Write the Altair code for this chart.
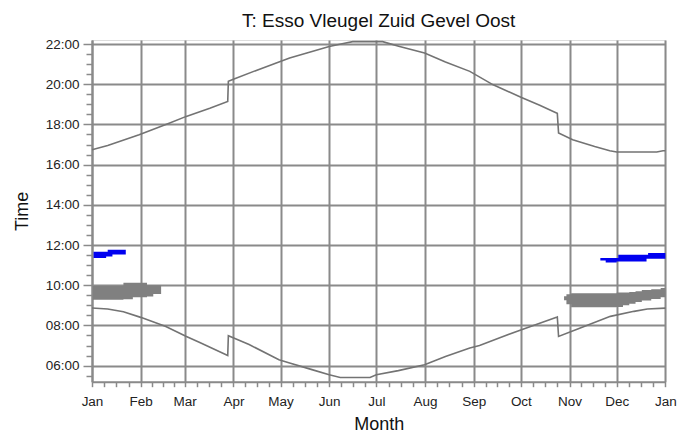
import altair as alt
import pandas as pd

# ---- data (day of year, hours) ----
sunset_day = [0, 10, 30, 49.5, 60, 75, 86.4, 86.8, 90, 105, 119, 125.8, 151, 160, 166, 185,
              195.8, 211.7, 225, 240.5, 255.4, 273.4, 285, 295.7, 296.2, 297, 306, 320,
              329.6, 334, 359.5, 363.5, 365]
sunset_time = [16.74, 16.95, 17.49, 18.07, 18.40, 18.8, 19.14, 20.15, 20.25, 20.7, 21.10, 21.30,
               21.88, 22.03, 22.12, 22.12, 21.88, 21.55, 21.1, 20.64, 19.97, 19.34, 18.95,
               18.57, 18.55, 17.57, 17.24, 16.9, 16.69, 16.63, 16.63, 16.69, 16.69]

sunrise_day = [0, 10, 20, 31, 47, 60.1, 68.6, 86.4, 86.8, 100, 119, 125.8, 140, 151, 158, 177,
               181, 195, 211.7, 225, 240.5, 246.7, 260, 273.4, 295.7, 296.2, 297, 310, 330,
               345, 353.5, 365]
sunrise_time = [8.87, 8.82, 8.68, 8.40, 7.95, 7.45, 7.15, 6.50, 7.49, 7.05, 6.29, 6.13, 5.80,
                5.55, 5.41, 5.41, 5.55, 5.75, 6.04, 6.45, 6.88, 7.0, 7.4, 7.79, 8.40, 8.42,
                7.45, 7.85, 8.45, 8.7, 8.82, 8.86]

# shadow periods (gray)
gray1_day = [0.5, 20, 26, 35, 39, 44]
gray1_lo = [9.28, 9.30, 9.40, 9.44, 9.56, 9.56]
gray1_hi = [9.96, 10.12, 10.12, 10.0, 10.0, 10.0]

gray2_day = [300.5, 302, 305, 334, 338, 342, 346, 350, 356, 362, 365]
gray2_lo = [9.25, 9.05, 8.90, 8.92, 9.0, 9.08, 9.16, 9.24, 9.31, 9.40, 9.40]
gray2_hi = [9.45, 9.55, 9.60, 9.64, 9.64, 9.66, 9.70, 9.76, 9.80, 9.86, 9.86]

# shadow periods (blue)
blue1_day = [1, 9, 10, 13, 21.5]
blue1_lo = [11.35, 11.43, 11.43, 11.53, 11.53]
blue1_hi = [11.67, 11.67, 11.77, 11.77, 11.77]

blue2_day = [323.6, 327, 334, 335, 353, 354, 365]
blue2_lo = [11.23, 11.13, 11.18, 11.18, 11.32, 11.32, 11.32]
blue2_hi = [11.35, 11.35, 11.35, 11.52, 11.52, 11.60, 11.60]

month_start = [0, 31, 59, 90, 120, 151, 181, 212, 243, 273, 304, 334, 365]
month_names = ["Jan", "Feb", "Mar", "Apr", "May", "Jun", "Jul", "Aug", "Sep", "Oct",
               "Nov", "Dec", "Jan"]

# ---- axis tick values ----
x_minor = []
for a, b in zip(month_start[:-1], month_start[1:]):
    for k in (1, 2, 3):
        x_minor.append(round(a + (b - a) * k / 4, 3))
x_values = month_start + x_minor
y_values = [5.5 + 0.5 * i for i in range(34) if 5.5 + 0.5 * i <= 22]

ms_js = "[" + ",".join(str(v) for v in month_start) + "]"
mn_js = "[" + ",".join("'" + n + "'" for n in month_names) + "]"
x_is_major = f"indexof({ms_js}, datum.value) >= 0"
x_label = f"{x_is_major} ? {mn_js}[indexof({ms_js}, datum.value)] : ''"
y_is_major = "datum.value % 2 == 0"
y_label = f"{y_is_major} ? ((datum.value < 10 ? '0' : '') + datum.value + ':00') : ''"

GRID = "#8a8a8a"
FONT = "Liberation Sans"

xscale = alt.Scale(domain=[0, 365], nice=False, zero=False)
yscale = alt.Scale(domain=[5.2, 22.2], nice=False, zero=False)

xaxis = alt.Axis(
    title="Month", values=x_values, labelExpr=x_label, labelOverlap=False, labelFlush=False,
    grid=True, gridColor=GRID, gridWidth=2,
    gridOpacity={"condition": {"test": x_is_major, "value": 1}, "value": 0},
    tickSize=5, tickColor=GRID, tickWidth=1.5,
    domainColor=GRID, domainWidth=2,
    labelFont=FONT, labelFontSize=13.5, labelColor="#222", labelPadding=8,
    titleFont=FONT, titleFontSize=18, titleFontWeight="normal", titleColor="#111",
    titlePadding=7,
)
yaxis = alt.Axis(
    title="Time", values=y_values, labelExpr=y_label, labelOverlap=False, labelFlush=False,
    grid=True, gridColor=GRID, gridWidth=2,
    gridOpacity={"condition": {"test": y_is_major, "value": 1}, "value": 0},
    tickSize={"condition": {"test": y_is_major, "value": 9}, "value": 6},
    tickColor=GRID, tickWidth=1.5,
    domainColor=GRID, domainWidth=2,
    labelFont=FONT, labelFontSize=13.5, labelColor="#222", labelPadding=4,
    titleFont=FONT, titleFontSize=18, titleFontWeight="normal", titleColor="#111",
    titlePadding=14,
)


def band(days, lo, hi, color):
    df = pd.DataFrame({"day": days, "lo": lo, "hi": hi})
    return alt.Chart(df).mark_area(color=color, interpolate="step-after", opacity=1).encode(
        x=alt.X("day:Q", scale=xscale, axis=xaxis),
        y=alt.Y("lo:Q", scale=yscale, axis=yaxis),
        y2="hi:Q",
    )


def curve(days, times):
    df = pd.DataFrame({"day": days, "time": times})
    return alt.Chart(df).mark_line(color="#737373", strokeWidth=1.6).encode(
        x=alt.X("day:Q", scale=xscale, axis=xaxis),
        y=alt.Y("time:Q", scale=yscale, axis=yaxis),
        order="day:Q",
    )


chart = alt.layer(
    curve(sunset_day, sunset_time),
    curve(sunrise_day, sunrise_time),
    band(gray1_day, gray1_lo, gray1_hi, "#808080"),
    band(gray2_day, gray2_lo, gray2_hi, "#808080"),
    band(blue1_day, blue1_lo, blue1_hi, "#0000f0"),
    band(blue2_day, blue2_lo, blue2_hi, "#0000f0"),
).properties(
    width=573.4,
    height=341.7,
    autosize=alt.AutoSizeParams(type="none"),
    padding={"left": 84, "top": 32, "right": 12, "bottom": 54},
    title=alt.TitleParams("T: Esso Vleugel Zuid Gevel Oost", font=FONT, fontSize=19,
                          fontWeight="normal", color="#111", anchor="middle", offset=6),
).configure_view(stroke=None).configure(background="white")

chart.save("out.html", embed_options={"renderer": "svg", "actions": False})
